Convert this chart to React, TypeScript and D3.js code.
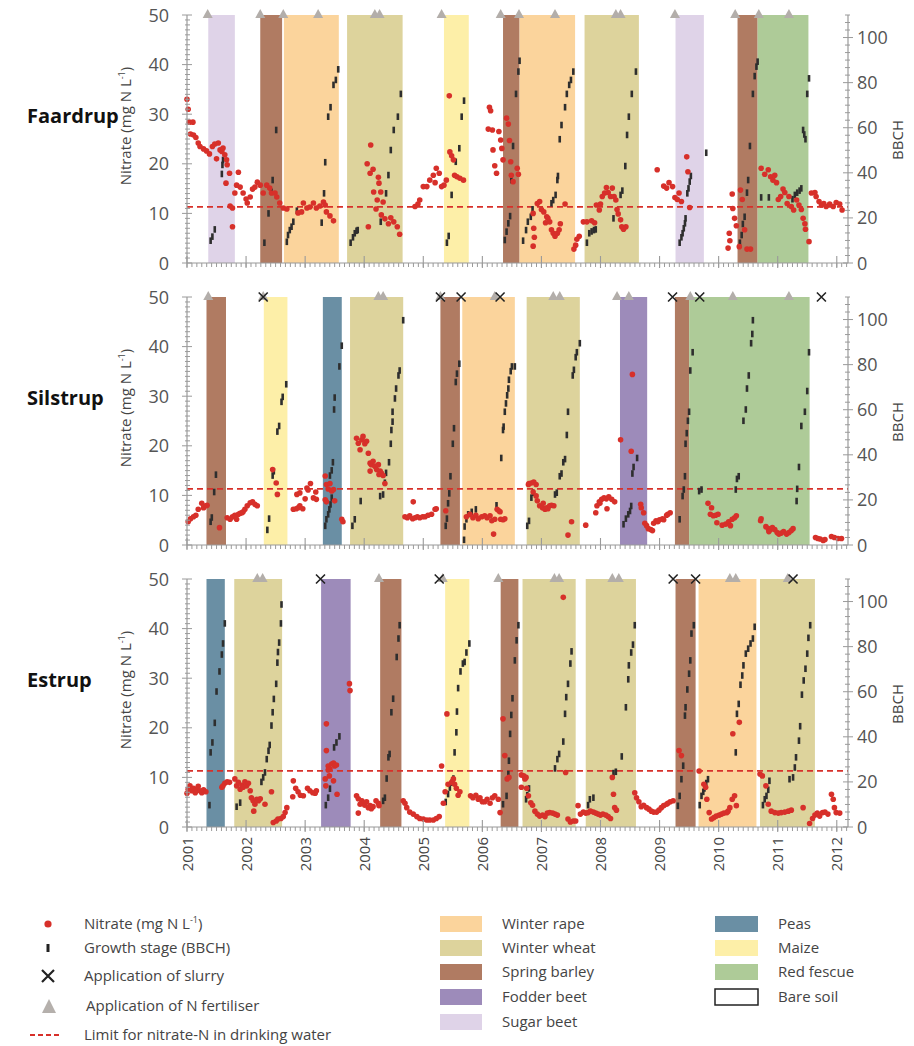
import * as d3 from 'd3';

// ---- data (decimal years) ----
const cropNames = ['Winter rape', 'Winter wheat', 'Spring barley', 'Fodder beet', 'Sugar beet', 'Peas', 'Maize', 'Red fescue', 'Bare soil'];
const yearTicks = d3.range(2001, 2013);

const faardrupCrops: [string, number, number][] = [
  ['Sugar beet', 2001.36, 2001.81], ['Spring barley', 2002.24, 2002.61], ['Winter rape', 2002.64, 2003.57],
  ['Winter wheat', 2003.71, 2004.65], ['Maize', 2005.35, 2005.77], ['Spring barley', 2006.35, 2006.63],
  ['Winter rape', 2006.63, 2007.57], ['Winter wheat', 2007.73, 2008.65], ['Sugar beet', 2009.27, 2009.75],
  ['Spring barley', 2010.32, 2010.66], ['Red fescue', 2010.66, 2011.52],
];
const silstrupCrops: [string, number, number][] = [
  ['Spring barley', 2001.33, 2001.66], ['Maize', 2002.30, 2002.70], ['Peas', 2003.30, 2003.62],
  ['Winter wheat', 2003.76, 2004.66], ['Spring barley', 2005.29, 2005.62], ['Winter rape', 2005.66, 2006.55],
  ['Winter wheat', 2006.75, 2007.65], ['Fodder beet', 2008.33, 2008.79], ['Spring barley', 2009.26, 2009.50],
  ['Red fescue', 2009.50, 2011.54],
];
const estrupCrops: [string, number, number][] = [
  ['Peas', 2001.33, 2001.64], ['Winter wheat', 2001.80, 2002.61], ['Fodder beet', 2003.27, 2003.77],
  ['Spring barley', 2004.27, 2004.63], ['Maize', 2005.37, 2005.78], ['Spring barley', 2006.31, 2006.61],
  ['Winter wheat', 2006.68, 2007.58], ['Winter wheat', 2007.75, 2008.60], ['Spring barley', 2009.27, 2009.61],
  ['Winter rape', 2009.66, 2010.64], ['Winter wheat', 2010.70, 2011.63],
];

const faardrupFert = [2001.35, 2002.24, 2002.63, 2003.22, 2004.18, 2004.26, 2005.31, 2006.31, 2006.62, 2007.23, 2008.26, 2008.34, 2009.26, 2010.28, 2010.68, 2011.19];
const faardrupSlurry: number[] = [];
const silstrupFert = [2001.36, 2002.29, 2004.24, 2004.32, 2005.29, 2006.21, 2007.20, 2007.31, 2008.28, 2008.48, 2009.52, 2010.24, 2011.19];
const silstrupSlurry = [2002.29, 2005.29, 2005.64, 2006.30, 2009.22, 2009.68, 2011.74];
const estrupFert = [2002.19, 2002.28, 2004.25, 2005.33, 2006.27, 2007.22, 2007.30, 2008.20, 2008.31, 2010.19, 2010.29, 2011.17];
const estrupSlurry = [2003.26, 2005.27, 2009.23, 2009.61, 2011.26];

const nitrateLimit = 11.3;

const faardrupNitrate: [number, number][] = [
  [2001.00,33.0],[2001.02,31.0],[2001.04,28.4],[2001.10,28.4],[2001.06,26.0],[2001.11,25.8],[2001.15,25.3],[2001.19,24.2],[2001.22,23.5],[2001.28,23.0],[2001.33,22.6],[2001.38,22.0],[2001.43,23.5],[2001.47,24.0],[2001.53,24.2],[2001.50,21.0],[2001.56,22.8],[2001.59,22.5],[2001.61,23.2],[2001.64,21.8],[2001.67,20.8],[2001.68,19.8],[2001.72,18.1],[2001.66,16.1],[2001.73,11.5],[2001.77,11.1],[2001.77,7.3],[2001.81,14.1],[2001.84,15.7],[2001.87,18.3],[2001.90,15.3],[2001.95,14.1],[2002.00,12.9],[2002.02,12.1],[2002.07,13.3],[2002.11,14.9],[2002.15,15.3],[2002.19,16.3],[2002.24,15.7],[2002.29,14.1],[2002.35,15.7],[2002.40,15.1],[2002.43,14.1],[2002.49,14.1],[2002.52,13.3],[2002.57,12.1],[2002.63,11.1],[2002.69,10.9],[2002.88,10.1],[2002.94,10.3],[2002.97,12.1],[2003.03,11.1],[2003.08,11.3],[2003.14,12.1],[2003.19,11.1],[2003.25,11.5],[2003.31,12.3],[2003.34,11.7],[2003.36,10.3],[2003.42,9.5],[2003.48,8.5],
  [2004.05,20.0],[2004.07,7.3],[2004.10,18.1],[2004.11,23.8],[2004.15,18.9],[2004.16,14.3],[2004.20,10.9],[2004.22,12.7],[2004.24,17.3],[2004.25,16.1],[2004.28,14.3],[2004.29,9.7],[2004.32,12.3],[2004.35,8.9],[2004.41,7.9],[2004.45,9.1],[2004.50,8.3],[2004.56,7.3],[2004.60,5.8],
  [2004.86,11.4],[2004.91,11.9],[2004.94,12.7],[2005.00,15.4],[2005.06,15.4],[2005.11,16.7],[2005.17,17.7],[2005.20,16.2],[2005.22,19.1],[2005.27,18.1],[2005.31,15.4],[2005.35,15.7],[2005.39,16.7],[2005.44,33.7],[2005.45,22.4],[2005.48,21.6],[2005.51,20.8],[2005.53,17.7],[2005.57,17.4],[2005.62,17.1],[2005.68,16.7],
  [2006.10,27.0],[2006.12,31.4],[2006.14,30.7],[2006.17,26.8],[2006.18,22.8],[2006.21,19.6],[2006.24,18.1],[2006.28,26.5],[2006.31,24.8],[2006.33,23.1],[2006.35,20.8],[2006.41,29.2],[2006.44,28.0],[2006.46,24.7],[2006.48,20.4],[2006.49,17.7],[2006.52,16.4],[2006.59,19.1],[2006.61,17.9],
  [2006.86,10.0],[2006.87,7.0],[2006.88,5.2],[2006.86,3.4],[2006.93,12.0],[2006.97,12.4],[2007.00,10.8],[2007.04,10.3],[2007.07,8.1],[2007.09,9.3],[2007.11,9.0],[2007.14,8.3],[2007.17,6.7],[2007.20,6.0],[2007.23,5.4],[2007.27,6.0],[2007.30,6.7],[2007.32,7.9],[2007.40,11.9],
  [2007.55,2.8],[2007.58,3.6],[2007.60,4.8],[2007.64,5.4],[2007.71,8.3],[2007.77,8.3],[2007.85,8.5],[2007.90,8.1],[2007.93,11.7],[2007.98,10.7],[2008.00,11.9],[2008.03,13.4],[2008.07,14.1],[2008.10,15.2],[2008.13,14.2],[2008.17,13.4],[2008.20,15.1],[2008.23,13.4],[2008.26,12.7],[2008.28,10.8],[2008.30,9.9],[2008.34,8.7],[2008.36,7.3],[2008.39,6.8],[2008.43,7.3],
  [2008.96,18.8],[2009.07,15.5],[2009.12,15.1],[2009.16,16.2],[2009.22,15.4],[2009.26,13.2],[2009.30,12.8],[2009.33,14.1],[2009.37,12.4],[2009.46,21.4],[2009.48,18.4],[2009.51,11.2],
  [2010.16,3.0],[2010.18,6.0],[2010.19,4.5],[2010.23,13.9],[2010.24,11.0],[2010.27,9.0],[2010.30,7.5],[2010.35,3.3],[2010.37,14.7],[2010.40,12.8],[2010.44,6.7],[2010.48,2.8],[2010.54,2.8],
  [2010.72,19.1],[2010.78,17.9],[2010.84,18.8],[2010.88,17.4],[2010.92,16.7],[2010.95,17.7],[2010.98,16.2],[2011.01,12.8],[2011.05,13.4],[2011.09,14.9],[2011.12,14.2],[2011.16,12.0],[2011.19,13.4],[2011.23,11.4],[2011.27,10.7],[2011.32,12.7],[2011.36,11.7],[2011.40,10.8],[2011.43,9.0],[2011.46,7.9],[2011.47,6.8],[2011.53,4.3],[2011.57,14.1],[2011.63,14.2],[2011.65,13.4],[2011.70,12.4],[2011.74,11.7],[2011.78,12.0],[2011.82,11.4],[2011.88,11.9],[2011.94,11.4],[2011.99,12.2],[2012.05,11.9],[2012.09,10.7],
];
const faardrupBBCH: [number, number][] = [
  [2001.40,9.9],[2001.43,11.7],[2001.47,14.9],[2001.59,39.5],[2001.60,43.5],[2001.61,45.7],
  [2002.31,9.0],[2002.38,22],[2002.43,31.6],[2002.45,36.8],[2002.51,59],
  [2002.69,9.4],[2002.71,12.4],[2002.74,14.6],[2002.77,16.1],[2002.80,18.3],[2002.86,23.2],[2003.28,17.9],[2003.32,30.9],[2003.34,44.7],[2003.39,64.9],[2003.43,69.1],[2003.48,79],[2003.52,81.2],[2003.56,85.9],
  [2003.77,9.0],[2003.81,11.4],[2003.84,13.2],[2003.87,14.3],[2003.89,14.6],[2004.28,18.3],[2004.37,30.9],[2004.41,39],[2004.45,50.1],[2004.50,59],[2004.57,64.9],[2004.62,75],
  [2005.40,9.0],[2005.43,12.0],[2005.48,30.2],[2005.55,44.9],[2005.61,50.9],[2005.65,64.9],[2005.69,72],
  [2006.38,10.2],[2006.41,13.9],[2006.44,17.6],[2006.47,20.8],[2006.49,36.8],[2006.52,51.9],[2006.57,75],[2006.61,84.9],[2006.63,89.7],
  [2006.69,9.9],[2006.74,14.6],[2006.77,18.3],[2006.82,20.5],[2006.85,23.8],[2007.17,26.5],[2007.20,27.9],[2007.24,30.2],[2007.27,36.8],[2007.28,38.6],[2007.31,54.9],[2007.34,61.2],[2007.40,69.1],[2007.43,75],[2007.47,79],[2007.50,81.2],[2007.54,84.9],
  [2007.77,9.0],[2007.81,13.2],[2007.85,14.0],[2007.89,14.6],[2007.92,14.9],[2008.22,19.8],[2008.34,30.2],[2008.37,32.1],[2008.42,43],[2008.45,56.8],[2008.48,64.9],[2008.53,75],[2008.60,84.9],
  [2009.34,9.0],[2009.37,11.4],[2009.39,13.2],[2009.41,15.4],[2009.43,17.6],[2009.44,19.8],[2009.47,30.9],[2009.49,33.1],[2009.51,36.1],[2009.53,38.6],[2009.79,48.9],
  [2010.36,9.0],[2010.39,12.4],[2010.41,17.3],[2010.44,20.5],[2010.48,31.2],[2010.50,36.8],[2010.53,51.9],[2010.58,75],[2010.61,82.9],[2010.64,87.1],[2010.66,89.3],
  [2010.72,29.1],[2010.85,29.1],[2011.25,28.3],[2011.29,30.2],[2011.33,31.2],[2011.37,32.1],[2011.40,33.1],[2011.43,59],[2011.45,57],[2011.47,54.9],[2011.50,75],[2011.53,81.9],
];

const silstrupNitrate: [number, number][] = [
  [2001.02,4.7],[2001.06,5.3],[2001.11,5.7],[2001.15,6.0],[2001.19,7.2],[2001.25,8.4],[2001.28,7.5],[2001.32,7.9],[2001.34,8.0],[2001.55,3.5],
  [2001.68,5.5],[2001.73,5.2],[2001.77,5.7],[2001.81,6.0],[2001.84,5.2],[2001.87,6.2],[2001.90,6.4],[2001.93,6.5],[2001.95,6.7],[2001.98,7.2],[2002.02,7.9],[2002.07,8.5],[2002.11,8.7],[2002.15,8.2],[2002.19,7.9],
  [2002.45,15.2],[2002.51,12.5],[2002.53,10.2],
  [2002.80,7.2],[2002.85,7.3],[2002.88,7.5],[2002.91,7.9],[2002.96,7.3],
  [2002.86,10.2],[2002.91,10.5],[2003.00,9.3],[2003.03,11.5],[2003.05,11.1],[2003.09,12.4],[2003.14,9.5],[2003.19,9.2],[2003.18,10.7],
  [2003.34,13.9],[2003.36,12.2],[2003.39,11.3],[2003.42,12.4],[2003.45,10.9],[2003.48,11.2],[2003.50,8.9],[2003.34,9.1],[2003.36,8.7],
  [2003.62,5.2],[2003.64,4.7],
  [2003.87,21.5],[2003.90,20.5],[2003.93,19.2],[2003.96,21.2],[2003.98,21.9],[2004.01,20.4],[2004.04,20.9],[2004.07,18.5],[2004.10,16.5],[2004.12,16.2],[2004.15,16.9],[2004.18,15.9],[2004.21,15.2],[2004.24,16.2],[2004.27,14.9],[2004.29,14.5],[2004.32,14.0],[2004.25,14.2],[2004.35,12.4],[2004.10,14.9],
  [2004.69,5.7],[2004.73,5.5],[2004.77,5.9],[2004.82,5.3],[2004.86,5.5],[2004.90,5.7],[2004.94,5.5],[2004.99,5.7],[2005.03,5.7],[2005.08,6.0],[2005.14,6.2],[2005.20,7.2],[2005.22,7.3],[2004.83,8.7],[2005.38,6.9],
  [2005.73,5.7],[2005.79,6.2],[2005.84,5.5],[2005.89,6.0],[2005.93,5.3],[2005.99,5.7],[2006.04,5.9],[2006.08,5.5],[2006.13,5.9],[2006.16,4.9],[2006.19,2.2],[2006.21,5.2],[2006.25,7.2],[2006.28,6.9],[2006.30,6.7],[2006.31,5.2],[2006.35,5.1],[2006.38,5.3],
  [2006.78,12.2],[2006.79,12.4],[2006.83,12.5],[2006.87,12.7],[2006.91,12.2],[2006.86,10.7],[2006.91,9.9],[2006.93,8.9],[2006.97,7.9],[2007.02,7.5],[2007.06,7.2],[2007.09,7.5],[2007.11,7.3],[2007.14,7.9],[2007.17,8.0],[2007.21,7.9],[2007.03,8.4],
  [2007.45,2.0],[2007.51,4.7],[2007.75,4.0],
  [2007.92,6.5],[2007.94,7.9],[2007.98,8.7],[2008.02,9.2],[2008.06,9.5],[2008.10,9.3],[2008.14,9.7],[2008.19,9.2],[2008.24,8.7],[2008.11,7.3],[2007.99,8.4],
  [2008.34,21.2],[2008.52,18.9],[2008.54,34.4],
  [2008.68,8.2],[2008.69,7.5],[2008.73,6.5],[2008.75,4.4],[2008.78,3.9],[2008.81,3.3],[2008.85,3.1],[2008.88,2.9],
  [2008.90,4.4],[2008.94,4.9],[2008.97,4.7],[2009.00,5.1],[2009.05,5.3],[2009.07,5.1],[2009.12,6.0],[2009.14,6.2],[2009.18,6.5],
  [2009.82,8.4],[2009.88,7.5],[2009.86,6.2],[2009.91,5.9],[2009.95,6.0],[2009.99,6.2],[2009.97,4.5],[2010.06,4.0],[2010.12,4.2],[2010.17,4.7],[2010.20,3.9],[2010.23,5.2],[2010.27,5.5],[2010.30,5.9],
  [2010.72,5.3],[2010.71,4.9],[2010.80,3.7],[2010.84,3.3],[2010.88,3.1],[2010.91,3.5],[2010.95,3.1],[2010.99,2.5],[2011.02,2.2],[2011.06,2.4],[2011.10,2.7],[2011.15,2.2],[2011.19,2.5],[2011.23,2.9],[2011.26,3.3],[2010.85,2.7],
  [2011.64,1.5],[2011.68,1.3],[2011.72,1.2],[2011.77,0.9],[2011.80,1.1],[2011.91,1.7],[2011.96,1.5],[2012.02,1.3],[2012.08,1.3],
];
const silstrupBBCH: [number, number][] = [
  [2001.40,10.3],[2001.42,12.2],[2001.46,23.5],[2001.49,31.2],
  [2002.36,6.7],[2002.39,11.7],[2002.45,30.8],[2002.47,32.7],[2002.53,50.3],[2002.56,52.8],[2002.60,63.5],[2002.62,65.7],[2002.68,71.3],
  [2003.34,8.5],[2003.36,11.4],[2003.39,13.6],[2003.41,15.8],[2003.43,18.0],[2003.45,21.0],[2003.42,30.8],[2003.45,33.1],[2003.47,36.7],[2003.49,60.1],[2003.50,65.4],[2003.58,79.2],[2003.62,88.4],
  [2003.80,8.5],[2003.84,11.4],[2003.94,19.5],[2004.27,21.7],[2004.32,22.4],[2004.35,27.6],[2004.37,32.0],[2004.42,36.7],[2004.45,44.9],[2004.46,51.0],[2004.48,54.7],[2004.48,59.1],[2004.52,65],[2004.54,69.4],[2004.58,75.2],[2004.60,77.4],[2004.66,99.7],
  [2005.38,8.5],[2005.40,11.7],[2005.42,18.5],[2005.44,22.9],[2005.46,30.5],[2005.50,44.9],[2005.52,51.8],[2005.55,72.3],[2005.57,76],[2005.61,80.4],
  [2005.69,2.3],[2005.70,8.2],[2005.73,11.4],[2005.76,13.6],[2005.82,14.7],[2005.89,15.8],[2006.24,17.6],[2006.32,38.6],[2006.35,51],[2006.36,52.5],[2006.38,59.1],[2006.40,62.8],[2006.42,66.4],[2006.44,69.4],[2006.45,73.3],[2006.48,77.1],[2006.50,79.2],[2006.55,79.2],
  [2006.76,8.5],[2006.79,10.7],[2006.83,21],[2006.86,23.2],[2007.23,22.4],[2007.26,23.2],[2007.31,30.5],[2007.34,31.7],[2007.37,36.7],[2007.40,38.1],[2007.43,48.8],[2007.45,59.1],[2007.53,75.2],[2007.55,77.7],[2007.58,83.3],[2007.60,85.5],[2007.65,89.5],
  [2008.39,9.2],[2008.43,11.7],[2008.47,13.6],[2008.50,15.1],[2008.52,17.3],[2008.54,31.7],[2008.56,34.6],[2008.62,38.6],
  [2009.34,11.4],[2009.39,21.7],[2009.41,24.6],[2009.43,30.5],[2009.44,44.9],[2009.46,49.6],[2009.48,55.1],[2009.50,59.1],[2009.52,77.4],[2009.56,85.5],
  [2009.67,23.9],[2009.71,24.6],[2010.29,24.6],[2010.31,29.3],[2010.34,30.5],[2010.42,55.1],[2010.46,60.1],[2010.48,69.4],[2010.51,75.2],[2010.55,89.5],[2010.57,93.6],[2010.58,99.7],
  [2011.32,19.5],[2011.33,24.9],[2011.36,34.6],[2011.40,52.8],[2011.46,59.1],[2011.50,68.3],[2011.53,85.5],
];

const estrupNitrate: [number, number][] = [
  [2001.00,6.8],[2001.02,7.6],[2001.05,8.3],[2001.08,7.3],[2001.11,7.8],[2001.14,6.9],[2001.16,7.5],[2001.19,8.2],[2001.22,7.3],[2001.25,6.9],[2001.28,7.5],[2001.32,7.1],
  [2001.59,8.0],[2001.61,8.3],[2001.64,8.8],[2001.68,9.1],[2001.72,9.0],
  [2001.81,9.7],[2001.84,8.3],[2001.87,9.0],[2001.90,7.6],[2001.93,8.4],[2001.95,8.0],[2001.98,9.1],[2002.01,8.3],[2002.04,8.8],[2002.07,7.3],[2002.09,5.9],[2002.12,5.3],[2002.15,4.6],[2002.18,5.6],[2002.21,5.3],[2002.24,5.7],[2002.13,3.2],[2002.32,4.6],[2002.43,7.1],
  [2002.46,0.9],[2002.51,1.2],[2002.54,1.6],[2002.59,1.7],[2002.63,2.1],[2002.66,2.9],[2002.69,3.9],
  [2002.80,9.3],[2002.84,7.8],[2002.88,7.1],[2002.92,6.4],[2002.97,6.3],[2003.04,7.8],[2003.08,7.3],[2003.13,6.9],[2003.17,6.8],[2003.19,7.3],[2002.79,6.1],
  [2003.36,20.8],[2003.36,15.4],[2003.34,9.7],[2003.39,12.3],[2003.42,11.7],[2003.45,12.7],[2003.48,12.9],[2003.50,12.3],[2003.53,12.5],[2003.35,8.3],[2003.39,11.5],[2003.41,10.3],[2003.48,9.3],[2003.54,6.6],[2003.75,28.9],[2003.76,27.5],
  [2003.87,6.3],[2003.90,5.7],[2003.96,5.3],[2003.98,4.8],[2004.01,4.4],[2004.04,5.1],[2004.07,3.9],[2004.10,4.3],[2004.12,3.7],[2004.15,4.1],[2003.90,2.8],[2003.93,4.6],[2004.20,5.3],[2004.24,4.8],[2004.25,4.3],
  [2004.66,5.3],[2004.69,4.8],[2004.72,3.9],[2004.77,3.0],[2004.83,2.6],[2004.89,2.1],[2004.94,1.7],[2005.00,1.6],[2005.06,1.4],[2005.11,1.4],[2005.17,1.4],[2005.22,1.7],[2005.27,2.1],[2005.31,12.3],
  [2005.34,4.8],[2005.37,7.1],[2005.40,22.8],[2005.42,8.6],[2005.48,9.0],[2005.51,9.7],[2005.53,8.6],[2005.56,7.8],[2005.59,6.4],[2005.62,7.1],
  [2005.80,6.3],[2005.84,5.9],[2005.89,6.4],[2005.93,5.6],[2005.96,5.9],[2006.00,5.1],[2006.04,5.1],[2006.08,5.6],[2006.13,4.8],[2006.17,5.9],[2006.21,6.3],[2006.27,5.6],[2006.30,2.9],[2006.35,21.8],[2006.38,14.4],[2006.42,9.7],[2006.45,10.0],
  [2006.66,10.5],[2006.70,10.3],[2006.74,10.0],[2006.66,8.0],[2006.72,9.7],[2006.75,7.8],[2006.78,6.3],[2006.82,4.9],[2006.85,4.4],[2006.89,3.2],[2006.93,2.6],[2006.97,2.2],[2007.02,2.4],[2007.06,2.1],[2007.10,2.8],[2007.14,2.9],[2007.19,2.8],[2007.23,2.6],[2007.27,2.4],[2007.37,46.3],[2007.41,11.0],
  [2007.45,1.6],[2007.49,1.0],[2007.54,1.2],[2007.58,1.2],
  [2007.62,4.3],[2007.66,2.6],[2007.71,3.0],[2007.75,2.8],[2007.79,2.9],[2007.83,3.2],[2007.88,3.0],[2007.92,2.8],[2007.96,2.6],[2008.00,2.4],[2008.04,2.6],[2008.09,2.4],[2008.13,2.1],[2008.17,1.7],[2008.20,10.0],[2008.22,6.6],[2008.24,3.9],[2008.27,3.4],
  [2008.58,6.9],[2008.61,5.9],[2008.65,5.1],[2008.69,4.1],[2008.73,4.4],[2008.78,3.9],[2008.82,3.6],[2008.86,3.2],[2008.90,3.0],[2008.95,3.0],[2008.99,3.4],[2009.03,3.9],[2009.07,4.3],[2009.12,4.6],[2009.14,4.8],[2009.18,5.1],[2009.23,5.3],
  [2009.33,15.4],[2009.37,14.4],[2009.67,11.3],
  [2009.75,8.6],[2009.78,8.0],[2009.80,5.6],[2009.84,2.9],[2009.88,1.6],[2009.92,1.9],[2009.96,2.2],[2010.01,2.4],[2010.05,2.6],[2010.09,2.8],[2010.14,2.9],[2010.16,3.2],[2010.19,3.9],[2010.23,5.6],[2010.27,6.3],[2010.24,18.8],[2010.35,21.1],[2010.30,4.3],
  [2010.70,10.7],[2010.74,10.3],[2010.80,8.3],[2010.84,4.6],[2010.89,3.2],[2010.95,2.9],[2011.01,2.8],[2011.06,2.9],[2011.12,3.0],[2011.18,3.2],[2011.23,3.4],[2011.43,3.9],
  [2011.54,0.7],[2011.59,1.7],[2011.63,2.4],[2011.67,2.8],[2011.71,2.2],[2011.76,2.9],[2011.80,3.0],[2011.85,2.6],[2011.91,6.6],[2011.94,5.6],[2011.96,3.9],[2011.99,2.9],[2012.05,2.8],
];
const estrupBBCH: [number, number][] = [
  [2001.38,9.7],[2001.40,33.1],[2001.43,37.5],[2001.47,46.2],[2001.50,60.1],[2001.55,69],[2001.59,76.5],[2001.61,81.4],[2001.64,90.3],
  [2001.84,9.0],[2001.90,10.8],[2002.26,20],[2002.29,22],[2002.32,24.2],[2002.35,30.1],[2002.38,33.8],[2002.40,36.4],[2002.43,45],[2002.45,50.9],[2002.47,56.8],[2002.51,63.5],[2002.53,72.9],[2002.54,77.6],[2002.56,81.8],[2002.59,90.3],[2002.60,98.7],
  [2003.35,9.7],[2003.39,13],[2003.42,17],[2003.49,35.3],[2003.53,37.5],[2003.58,40.2],
  [2004.32,11.6],[2004.35,13],[2004.38,21.5],[2004.41,30.9],[2004.43,32.4],[2004.46,50.9],[2004.49,56.9],[2004.55,75.4],[2004.58,83.6],[2004.60,89.5],
  [2005.38,11.1],[2005.42,14.6],[2005.45,17.5],[2005.48,19.7],[2005.51,21.5],[2005.53,33.1],[2005.56,42],[2005.57,51.2],[2005.59,61.6],[2005.63,69],[2005.67,72.5],[2005.70,73.2],[2005.73,77.4],[2005.78,81.4],
  [2006.35,10.1],[2006.41,13.8],[2006.44,23.5],[2006.45,29.4],[2006.47,41.3],[2006.49,49.7],[2006.51,57.1],[2006.55,73.9],[2006.58,82.8],[2006.61,89.5],
  [2006.74,12.3],[2006.76,14.1],[2006.79,17.1],[2007.23,26],[2007.27,30.1],[2007.30,32.4],[2007.37,37.9],[2007.40,50.2],[2007.42,57.6],[2007.45,63.5],[2007.49,72.5],[2007.51,77.9],
  [2007.79,9.7],[2007.82,12.3],[2007.88,13],[2008.22,23.9],[2008.26,24.5],[2008.36,31.3],[2008.43,53.1],[2008.47,65.5],[2008.48,71.7],[2008.52,77.4],[2008.55,80.9],[2008.58,89.5],
  [2009.31,9.4],[2009.34,13.8],[2009.37,21.2],[2009.40,27.2],[2009.43,49.4],[2009.44,53.1],[2009.47,61],[2009.50,68],[2009.52,73.9],[2009.54,85.8],[2009.58,89.5],
  [2009.68,9.7],[2009.71,13.8],[2009.74,15.6],[2009.76,17.1],[2009.79,19.5],[2009.82,21.2],[2010.29,33.1],[2010.31,50.2],[2010.34,54.6],[2010.37,63.1],[2010.40,67.2],[2010.42,71.7],[2010.46,76.9],[2010.50,79.1],[2010.54,81.4],[2010.58,83.6],[2010.61,88.8],
  [2010.75,9.7],[2010.78,12.3],[2010.81,13.8],[2010.84,16.5],[2010.86,20.5],[2011.20,21.2],[2011.26,22],[2011.29,26.4],[2011.31,30.9],[2011.36,38.3],[2011.38,44.7],[2011.41,58.7],[2011.44,65],[2011.47,70.2],[2011.50,76.9],[2011.52,83.9],[2011.55,89.5],
];

// ---- styling ----
const cropColor: Record<string, string> = {
  'Winter rape': '#fbd49c', 'Winter wheat': '#ddd39c', 'Spring barley': '#b07b62', 'Fodder beet': '#9d8bba',
  'Sugar beet': '#dfd3e8', 'Peas': '#6a8fa4', 'Maize': '#fdefa8', 'Red fescue': '#aecb98', 'Bare soil': '#ffffff',
};
const RED = '#d7302a';
const AXIS = '#9a9a9a';
const FONT = '"Open Sans", "DejaVu Sans", sans-serif';

const W = 914, H = 1046;
const PANEL_H = 248;
const X0 = 187, X1 = 848;

type Site = {
  name: string; top: number; crops: [string, number, number][];
  nitrate: [number, number][]; bbch: [number, number][]; fert: number[]; slurry: number[];
};

const sites: Site[] = [
  { name: 'Faardrup', top: 15, crops: faardrupCrops, nitrate: faardrupNitrate, bbch: faardrupBBCH, fert: faardrupFert, slurry: faardrupSlurry },
  { name: 'Silstrup', top: 297, crops: silstrupCrops, nitrate: silstrupNitrate, bbch: silstrupBBCH, fert: silstrupFert, slurry: silstrupSlurry },
  { name: 'Estrup', top: 579, crops: estrupCrops, nitrate: estrupNitrate, bbch: estrupBBCH, fert: estrupFert, slurry: estrupSlurry },
];

const x = d3.scaleLinear().domain([2001, 2012.19]).range([X0, X1]);

function Panel({ site, last }: { site: Site; last: boolean }) {
  const top = site.top, bottom = top + PANEL_H;
  const y = d3.scaleLinear().domain([0, 50]).range([bottom, top]);
  const yb = d3.scaleLinear().domain([0, 110]).range([bottom, top]);
  const months = d3.range(0, 11 * 12 + 3).map(m => 2001 + m / 12).filter(v => x(v) <= X1);
  const tri = (cx: number) => `M${cx},${top - 6}L${cx + 5},${top + 3}L${cx - 5},${top + 3}Z`;
  return (
    <g>
      {site.crops.map(([c, a, b], i) => (
        <rect key={'c' + i} x={x(a)} y={top} width={x(b) - x(a)} height={PANEL_H} fill={cropColor[c]} />
      ))}
      <line x1={X0} x2={X1} y1={y(nitrateLimit)} y2={y(nitrateLimit)} stroke={RED} strokeWidth={1.8} strokeDasharray="6,4" />
      {site.bbch.map(([t, v], i) => (
        <rect key={'b' + i} x={x(t) - 1.3} y={yb(v) - 3.3} width={2.6} height={6.6} fill="#2e2e2e" />
      ))}
      {site.nitrate.map(([t, v], i) => (
        <circle key={'n' + i} cx={x(t)} cy={y(v)} r={2.8} fill={RED} />
      ))}
      {site.fert.map((t, i) => <path key={'f' + i} d={tri(x(t))} fill="#b3aeaa" />)}
      {site.slurry.map((t, i) => (
        <path key={'s' + i} d={`M${x(t) - 4.5},${top - 4.5}L${x(t) + 4.5},${top + 4.5}M${x(t) + 4.5},${top - 4.5}L${x(t) - 4.5},${top + 4.5}`}
          stroke="#222" strokeWidth={1.6} />
      ))}

      {/* left axis */}
      <line x1={X0} x2={X0} y1={top} y2={bottom} stroke={AXIS} strokeWidth={1.2} />
      {d3.range(0, 51, 1).map(v => (
        <line key={'lm' + v} x1={X0 - (v % 10 === 0 ? 5 : 2)} x2={X0 + (v % 10 === 0 ? 5 : 3)} y1={y(v)} y2={y(v)} stroke={AXIS} strokeWidth={1} />
      ))}
      {y.ticks(5).map(v => (
        <text key={'lt' + v} x={169} y={y(v) + 6.5} textAnchor="end" fontSize={18} fill="#555" fontFamily={FONT}>{v}</text>
      ))}
      <text transform={`translate(131,${top + 111}) rotate(-90)`} textAnchor="middle" fontSize={15} fill="#444" fontFamily={FONT}>
        Nitrate (mg N L<tspan dy={-6} fontSize={9}>-1</tspan><tspan dy={6}>)</tspan>
      </text>
      <text x={27} y={top + 108} fontSize={20} fontWeight="bold" fill="#111" fontFamily={FONT}>{site.name}</text>

      {/* right axis */}
      <line x1={X1} x2={X1} y1={top} y2={bottom} stroke={AXIS} strokeWidth={1.2} />
      {d3.range(0, 110.01, 10 / 3).map((v, i) => (
        <line key={'rm' + i} x1={X1 - (i % 6 === 0 ? 5 : 3)} x2={X1 + (i % 6 === 0 ? 5 : 2)} y1={yb(v)} y2={yb(v)} stroke={AXIS} strokeWidth={1} />
      ))}
      {d3.range(0, 101, 20).map(v => (
        <text key={'rt' + v} x={857} y={yb(v) + 6.5} fontSize={18} fill="#555" fontFamily={FONT}>{v}</text>
      ))}
      <text transform={`translate(903,${top + 125}) rotate(-90)`} textAnchor="middle" fontSize={15} fill="#444" fontFamily={FONT}>BBCH</text>

      {/* bottom axis */}
      <line x1={X0} x2={X1} y1={bottom} y2={bottom} stroke={AXIS} strokeWidth={1.2} />
      {months.map((m, i) => (
        <line key={'bm' + i} x1={x(m)} x2={x(m)} y1={bottom} y2={bottom + 4} stroke={AXIS} strokeWidth={1} />
      ))}
      {yearTicks.map(yr => (
        <line key={'by' + yr} x1={x(yr)} x2={x(yr)} y1={bottom - 7} y2={bottom + 5} stroke={AXIS} strokeWidth={1.1} />
      ))}
      {last && yearTicks.map(yr => (
        <text key={'yl' + yr} transform={`translate(${x(yr) + 5.5},${bottom + 10}) rotate(-90)`} textAnchor="end" fontSize={15} fill="#444" fontFamily={FONT}>{yr}</text>
      ))}
    </g>
  );
}

function Legend() {
  const left = [
    'Nitrate (mg N L-1)', 'Growth stage (BBCH)', 'Application of slurry', 'Application of N fertiliser', 'Limit for nitrate-N in drinking water',
  ];
  const leftY = [924, 948, 976, 1006, 1035];
  const mid = cropNames.slice(0, 5);
  const right = cropNames.slice(5);
  const rowY = [924, 948, 972, 997, 1022];
  const txt = { fontSize: 15, fill: '#444', fontFamily: FONT } as const;
  return (
    <g>
      <circle cx={48} cy={leftY[0]} r={3.6} fill={RED} />
      <rect x={46.5} y={leftY[1] - 4} width={3} height={8} fill="#222" />
      <path d={`M42,${leftY[2] - 6}L54,${leftY[2] + 6}M54,${leftY[2] - 6}L42,${leftY[2] + 6}`} stroke="#222" strokeWidth={2.2} />
      <path d={`M49,${leftY[3] - 7}L56,${leftY[3] + 7}L42,${leftY[3] + 7}Z`} fill="#b5b0ac" />
      <line x1={30} x2={61} y1={leftY[4]} y2={leftY[4]} stroke={RED} strokeWidth={1.8} strokeDasharray="5,3" />
      {left.map((t, i) => (
        <text key={'l' + i} x={i === 3 ? 86 : 84} y={leftY[i] + 5} {...txt}>
          {i === 0 ? <>Nitrate (mg N L<tspan dy={-6} fontSize={9}>-1</tspan><tspan dy={6}>)</tspan></> : t}
        </text>
      ))}
      {mid.map((c, i) => (
        <g key={'m' + c}>
          <rect x={440} y={rowY[i] - 8} width={42} height={16} fill={cropColor[c]} />
          <text x={502} y={rowY[i] + 5} {...txt}>{c}</text>
        </g>
      ))}
      {right.map((c, i) => (
        <g key={'r' + c}>
          <rect x={715} y={rowY[i] - 8} width={43} height={16} fill={cropColor[c]}
            stroke={c === 'Bare soil' ? '#222' : 'none'} strokeWidth={1.5} />
          <text x={778} y={rowY[i] + 5} {...txt}>{c}</text>
        </g>
      ))}
    </g>
  );
}

export default function App() {
  return (
    <div style={{ position: 'absolute', left: 0, top: 0 }}>
      <svg width={W} height={H} style={{ display: 'block', background: '#fff' }}>
        {sites.map((s, i) => <Panel key={s.name} site={s} last={i === sites.length - 1} />)}
        <Legend />
      </svg>
    </div>
  );
}
